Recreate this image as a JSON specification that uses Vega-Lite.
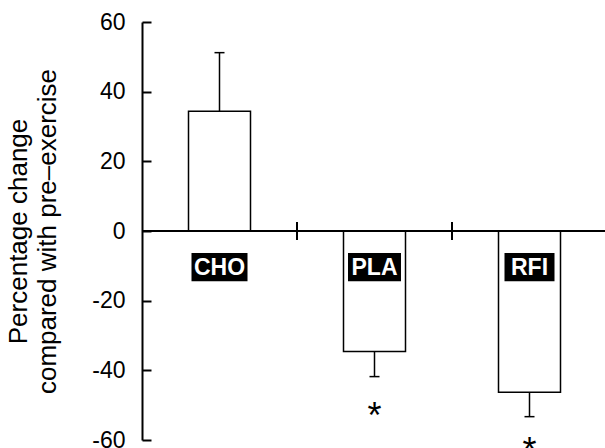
{
  "$schema": "https://vega.github.io/schema/vega-lite/v6.json",
  "width": 465,
  "height": 418,
  "autosize": "none",
  "padding": {"left": 142, "top": 22, "right": 0, "bottom": 8},
  "background": "white",
  "config": {"view": {"stroke": null}, "font": "Liberation Sans"},
  "data": {
    "values": [
      {"cat": "CHO", "value": 34.4, "err": 51.2, "star": null},
      {"cat": "PLA", "value": -34.6, "err": -41.8, "star": -50.8},
      {"cat": "RFI", "value": -46.3, "err": -53.3, "star": -60.8}
    ]
  },
  "layer": [
    {
      "mark": {"type": "bar", "size": 62, "fill": "white", "stroke": "black", "strokeWidth": 1.5},
      "encoding": {
        "x": {"field": "cat", "type": "nominal", "sort": null, "scale": {"paddingInner": 0, "paddingOuter": 0}, "axis": null},
        "y": {
          "field": "value", "type": "quantitative",
          "scale": {"domain": [-60, 60], "nice": false, "zero": false},
          "axis": {
            "values": [-60, -40, -20, 0, 20, 40, 60],
            "labelExpr": "replace(datum.label, '−', '-')",
            "grid": false,
            "domainColor": "black", "domainWidth": 2,
            "tickColor": "black", "tickWidth": 2, "tickSize": -9,
            "labelFont": "Liberation Sans", "labelFontSize": 23, "labelColor": "black", "labelPadding": 26,
            "title": ["Percentage change", "compared with pre–exercise"],
            "titleFont": "Liberation Sans", "titleFontSize": 26, "titleFontWeight": "normal",
            "titleColor": "black", "titleLineHeight": 29, "titlePadding": 31
          }
        }
      }
    },
    {
      "mark": {"type": "rule", "stroke": "black", "strokeWidth": 1.5},
      "encoding": {
        "x": {"field": "cat", "type": "nominal", "sort": null},
        "y": {"field": "value", "type": "quantitative"},
        "y2": {"field": "err"}
      }
    },
    {
      "mark": {"type": "tick", "orient": "horizontal", "size": 10, "thickness": 1.5, "color": "black", "opacity": 1},
      "encoding": {
        "x": {"field": "cat", "type": "nominal", "sort": null},
        "y": {"field": "err", "type": "quantitative"}
      }
    },
    {
      "mark": {"type": "rule", "stroke": "black", "strokeWidth": 2},
      "encoding": {"y": {"datum": 0}}
    },
    {
      "transform": [{"filter": "datum.cat !== 'CHO'"}],
      "mark": {"type": "rule", "stroke": "black", "strokeWidth": 2},
      "encoding": {
        "x": {"field": "cat", "type": "nominal", "sort": null, "bandPosition": 0},
        "y": {"datum": -2.6},
        "y2": {"datum": 2.6}
      }
    },
    {
      "mark": {"type": "bar", "fill": "black"},
      "encoding": {
        "x": {"field": "cat", "type": "nominal", "sort": null},
        "y": {"datum": -6.3},
        "y2": {"datum": -14.4},
        "size": {"field": "cat", "type": "ordinal", "scale": {"domain": ["CHO", "PLA", "RFI"], "range": [56, 50, 41]}, "legend": null}
      }
    },
    {
      "mark": {"type": "text", "color": "white", "font": "Liberation Sans", "fontWeight": "bold", "fontSize": 23, "baseline": "middle", "align": "center", "dy": 1},
      "encoding": {
        "x": {"field": "cat", "type": "nominal", "sort": null},
        "y": {"datum": -10.4},
        "text": {"field": "cat"}
      }
    },
    {
      "transform": [{"filter": "datum.star !== null"}],
      "mark": {"type": "text", "color": "black", "font": "Liberation Sans", "fontSize": 36, "baseline": "alphabetic", "align": "center", "dy": 20},
      "encoding": {
        "x": {"field": "cat", "type": "nominal", "sort": null},
        "y": {"field": "star", "type": "quantitative"},
        "text": {"value": "*"}
      }
    }
  ]
}
